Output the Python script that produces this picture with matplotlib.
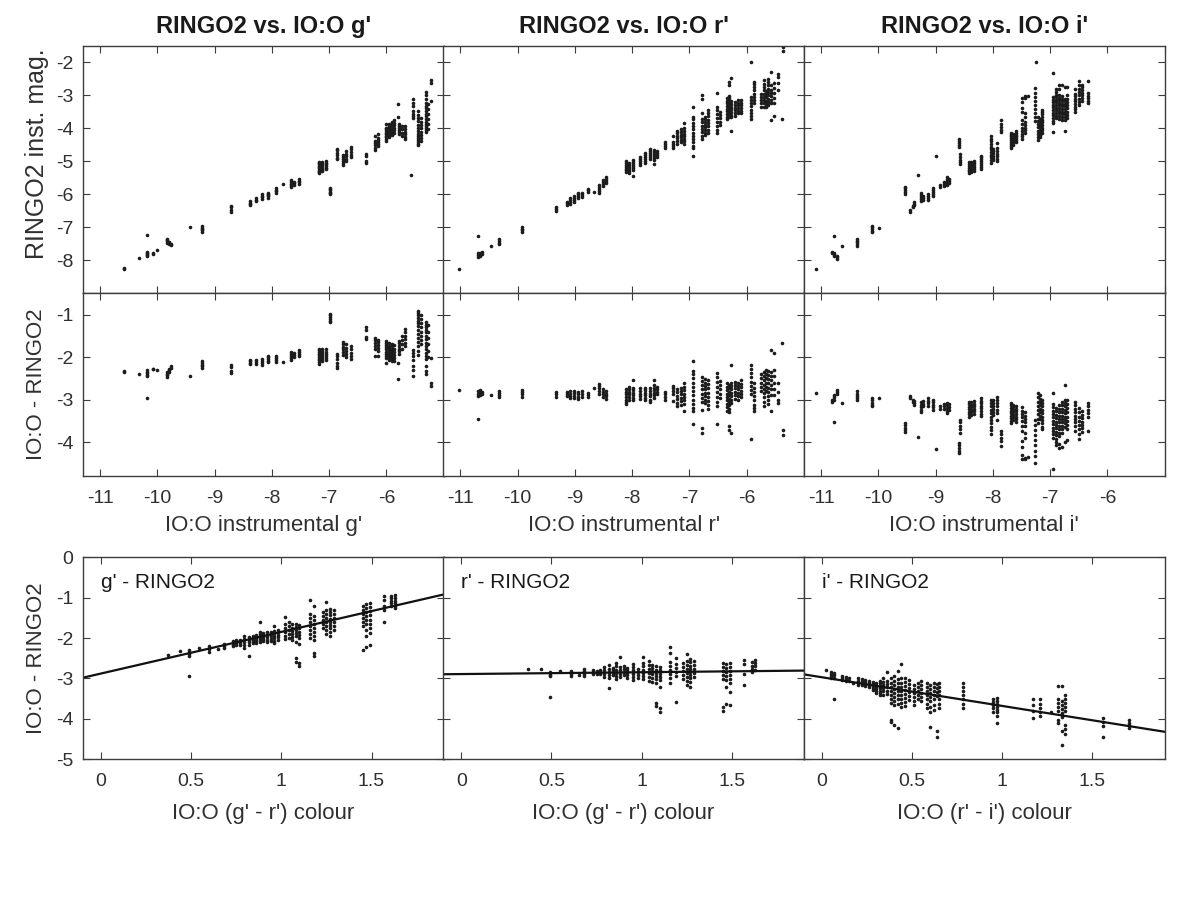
import matplotlib
matplotlib.use('Agg')
import matplotlib.pyplot as plt
import numpy as np

plt.rcParams['font.family'] = ['Liberation Sans', 'DejaVu Sans']
plt.rcParams['axes.unicode_minus'] = False

# ---------------- data: IO:O instrumental mag (cluster x) and IO:O - RINGO2 ----------------
g_io = [-10.59, -10.33, -10.19, -10.07, -10.00, -9.83, -9.79, -9.76, -9.44, -9.23, -8.72,
        -8.38, -8.28, -8.18, -8.07, -7.93, -7.81, -7.66, -7.62, -7.52, -7.17, -7.12, -7.06,
        -6.98, -6.87, -6.76, -6.70, -6.62, -6.35, -6.20, -6.14, -6.00, -5.95, -5.90, -5.86,
        -5.80, -5.78, -5.73, -5.68, -5.57, -5.54, -5.44, -5.40, -5.30, -5.27, -5.22]
g_diff = [[-2.33, -2.36], [-2.41], [-2.31, -2.35, -2.38, -2.42, -2.45, -2.97], [-2.27, -2.28],
          [-2.30], [-2.36, -2.40, -2.43, -2.47], [-2.27, -2.31, -2.35], [-2.22, -2.25], [-2.44],
          [-2.10, -2.14, -2.18, -2.22, -2.26], [-2.19, -2.24, -2.33, -2.37],
          [-2.06, -2.10, -2.13, -2.17], [-2.07, -2.12, -2.16], [-2.05, -2.09, -2.13, -2.18],
          [-1.97, -2.01, -2.05, -2.09, -2.12], [-1.98, -2.03, -2.07, -2.11], [-2.11],
          [-1.89, -1.93, -1.97, -2.03, -2.08], [-1.90, -1.95, -2.00], [-1.84, -1.88, -1.92, -1.98],
          [-1.80, -1.84, -1.88, -1.92, -1.96, -2.00, -2.04, -2.08, -2.12, -2.16],
          [-1.81, -1.86, -1.90, -1.95, -2.00, -2.05, -2.10],
          [-1.82, -1.87, -1.92, -1.97, -2.02, -2.07],
          [-0.98, -1.02, -1.06, -1.10, -1.14, -1.18],
          [-1.93, -1.98, -2.05, -2.13, -2.20, -2.25],
          [-1.64, -1.70, -1.76, -1.82, -1.88, -1.95], [-1.70, -1.78, -1.85, -1.92, -2.00],
          [-1.75, -1.82, -1.90, -1.98, -2.05], [-1.30, -1.36, -1.52, -1.58],
          [-1.55, -1.60, -1.68, -1.75, -1.82, -1.98], [-1.60, -1.65, -1.72, -1.78, -1.85, -1.98],
          [-1.62, -1.67, -1.72, -1.77, -1.82, -1.87, -1.92, -1.97, -2.02, -2.14],
          [-1.68, -1.73, -1.78, -1.83, -1.88, -1.93, -1.98, -2.03, -2.08],
          [-1.70, -1.75, -1.80, -1.85, -1.90, -1.95, -2.00, -2.05, -2.10],
          [-1.72, -1.80, -1.88, -1.95, -2.02, -2.10],
          [-2.52, -2.15], [-1.62, -1.68, -1.74, -1.80, -1.86, -1.92], [-1.50, -1.60, -1.70, -1.80],
          [-1.35, -1.42, -1.50, -1.58, -1.66, -1.75], [-0.14],
          [-1.84, -1.90, -1.98, -2.06, -2.20, -2.30, -2.44],
          [-0.92, -0.97, -1.02, -1.08, -1.14, -1.20, -1.28, -1.36, -1.45, -1.55, -1.65, -1.75, -1.85, -1.95],
          [-1.00, -1.10, -1.20, -1.30, -1.40, -1.50, -1.60, -1.70],
          [-1.18, -1.24, -1.30, -1.36, -1.42, -1.50, -1.58, -1.66, -1.74, -1.82, -1.90, -1.98, -2.05, -2.20, -2.32, -2.40],
          [-1.25, -1.40, -1.55, -1.70, -1.85, -2.00], [-2.03, -2.60, -2.68]]

r_io = [-11.02, -10.70, -10.66, -10.63, -10.46, -10.32, -9.92, -9.33, -9.14, -9.08, -9.01, -8.94,
        -8.88, -8.78, -8.67, -8.58, -8.51, -8.45, -8.10, -8.05, -7.99, -7.86, -7.78, -7.68, -7.62,
        -7.57, -7.42, -7.28, -7.22, -7.15, -7.10, -6.93, -6.78, -6.73, -6.68, -6.52, -6.46, -6.35,
        -6.31, -6.27, -6.20, -6.15, -6.10, -5.92, -5.87, -5.75, -5.70, -5.66, -5.62, -5.58, -5.53,
        -5.46, -5.39, -5.36]
r_diff = [[-2.77], [-2.80, -2.86, -2.91, -3.45], [-2.78, -2.84, -2.89], [-2.82, -2.88], [-2.89],
          [-2.81, -2.85, -2.90, -2.95], [-2.78, -2.83, -2.88, -2.94], [-2.82, -2.88, -2.94],
          [-2.82, -2.87, -2.92], [-2.80, -2.86, -2.92, -2.97], [-2.79, -2.85, -2.91, -2.96],
          [-2.83, -2.88, -2.94, -2.99], [-2.81, -2.87, -2.93], [-2.84, -2.90, -2.95], [-2.73],
          [-2.63, -2.68, -2.74, -2.80, -2.86], [-2.76, -2.82, -2.88, -2.94],
          [-2.80, -2.86, -2.92, -2.98], [-2.76, -2.82, -2.88, -2.94, -3.00, -3.06, -3.10],
          [-2.70, -2.76, -2.82, -2.88, -2.94, -3.00], [-2.54, -2.72, -2.78, -2.84, -2.90, -2.96, -3.02],
          [-2.74, -2.80, -2.86, -2.92, -2.98], [-2.72, -2.78, -2.84, -2.90, -2.96, -3.02],
          [-2.74, -2.80, -2.86, -2.92, -3.00, -3.06], [-2.54, -2.66, -2.72, -2.78, -2.84, -2.90, -2.96],
          [-2.70, -2.76, -2.82, -2.88], [-2.82, -2.88, -2.94, -3.00], [-2.68, -2.74, -2.80, -2.86, -3.04],
          [-2.75, -2.83, -2.91, -2.99, -3.07, -3.15], [-2.72, -2.80, -2.88, -2.96, -3.04, -3.12],
          [-2.62, -2.70, -2.78, -2.86, -2.94, -3.02, -3.10, -3.26],
          [-2.09, -2.32, -2.40, -2.50, -2.60, -2.70, -2.80, -2.90, -3.00, -3.10, -3.20, -3.28, -3.58],
          [-2.46, -2.56, -2.66, -2.76, -2.86, -2.96, -3.06, -3.24, -3.67, -3.79],
          [-2.52, -2.60, -2.68, -2.76, -2.84, -2.92, -3.00, -3.08],
          [-2.54, -2.64, -2.74, -2.84, -2.94, -3.04, -3.14, -3.22],
          [-2.38, -2.48, -2.58, -2.70, -2.82, -2.94, -3.06, -3.16, -3.58],
          [-2.56, -2.66, -2.76, -2.86, -2.96],
          [-2.62, -2.70, -2.78, -2.86, -2.94, -3.02, -3.10, -3.18, -3.26],
          [-2.66, -2.74, -2.82, -2.90, -2.98, -3.06, -3.14, -3.22, -3.30, -3.63, -3.72],
          [-2.19, -2.60, -2.68, -2.76, -2.84, -2.92, -3.00, -3.08, -3.79],
          [-2.58, -2.66, -2.74, -2.82, -2.90, -2.98], [-2.60, -2.68, -2.76, -2.84, -2.92, -3.00],
          [-2.55, -2.63, -2.71, -2.79, -2.87, -2.95],
          [-2.19, -2.28, -2.38, -2.48, -2.58, -2.68, -2.78, -2.88, -3.93],
          [-2.62, -2.72, -2.82, -2.92, -3.02, -3.12, -3.20, -3.28],
          [-2.40, -2.50, -2.60, -2.70, -2.80],
          [-2.35, -2.45, -2.55, -2.65, -2.75, -2.85, -2.95, -3.05, -3.15],
          [-2.30, -2.40, -2.50, -2.60, -2.70, -2.80],
          [-2.32, -2.42, -2.52, -2.62, -2.72, -2.82, -2.92, -3.02, -3.10],
          [-1.84, -2.35, -2.45, -2.55, -2.65, -2.75, -2.90, -3.28],
          [-1.90, -2.30, -2.45, -2.60, -2.75, -2.90], [-2.62, -2.82, -3.00, -3.09], [-1.68],
          [-3.71, -3.83]]

i_io = [-11.09, -10.81, -10.77, -10.73, -10.64, -10.37, -10.12, -9.99, -9.54, -9.44, -9.40, -9.37,
        -9.30, -9.26, -9.22, -9.13, -9.05, -9.00, -8.93, -8.86, -8.80, -8.77, -8.57, -8.59, -8.42,
        -8.38, -8.33, -8.21, -8.04, -7.99, -7.93, -7.86, -7.69, -7.64, -7.59, -7.50, -7.44, -7.38,
        -7.26, -7.25, -7.22, -7.18, -7.14, -6.95, -6.90, -6.85, -6.80, -6.74, -6.70, -6.57, -6.50,
        -6.44, -6.33]
i_diff = [[-2.84], [-3.02, -3.06], [-2.90, -2.95, -3.00, -3.52], [-2.77, -2.82, -2.87], [-3.07],
          [-2.81, -2.86, -2.91, -2.96, -3.00], [-2.97, -3.02, -3.07, -3.12, -3.16], [-2.97],
          [-3.55, -3.60, -3.66, -3.72, -3.77], [-2.91, -2.96], [-3.00, -3.05], [-3.04, -3.09, -3.13],
          [-3.87], [-3.06, -3.12, -3.18, -3.24, -3.30], [-3.04, -3.10, -3.16],
          [-2.97, -3.03, -3.09, -3.15], [-3.00, -3.06, -3.12, -3.18, -3.24], [-4.16],
          [-3.16, -3.22], [-3.10, -3.16, -3.22], [-3.08, -3.14, -3.20, -3.26, -3.32],
          [-3.10, -3.17, -3.24], [-3.48, -3.54, -3.62, -3.70, -3.78],
          [-4.02, -4.08, -4.14, -4.20, -4.26], [-3.05, -3.11, -3.17, -3.23, -3.29, -3.35, -3.40],
          [-3.06, -3.12, -3.18, -3.24, -3.30, -3.36], [-3.04, -3.10, -3.16, -3.22, -3.28, -3.34],
          [-2.97, -3.03, -3.09, -3.15, -3.21, -3.27, -3.33, -3.38],
          [-3.00, -3.08, -3.16, -3.24, -3.32, -3.40, -3.48, -3.56, -3.64, -3.72, -3.80],
          [-3.02, -3.09, -3.16, -3.23, -3.30, -3.37], [-2.93, -3.00, -3.08, -3.16, -3.24, -3.32, -3.48],
          [-3.75, -3.82, -3.90, -3.98, -4.10],
          [-3.08, -3.14, -3.20, -3.26, -3.32, -3.38, -3.44, -3.50, -3.56],
          [-3.12, -3.18, -3.24, -3.30, -3.36, -3.42, -3.48],
          [-3.16, -3.22, -3.28, -3.34, -3.40, -3.46, -3.52],
          [-3.18, -3.26, -3.34, -3.42, -3.50, -3.62, -3.74, -3.98, -4.12, -4.30, -4.41],
          [-3.30, -3.38, -3.46, -3.54, -3.62, -3.78, -3.90, -4.37, -4.41], [-4.35],
          [-3.48, -3.60, -3.72, -3.84, -3.96, -4.08, -4.20, -4.32, -4.49], [-5.27],
          [-2.85, -2.95, -3.05, -3.15, -3.25, -3.35, -3.45, -3.55],
          [-2.90, -2.98, -3.06, -3.14, -3.22, -3.30, -3.38, -3.46],
          [-3.00, -3.08, -3.16, -3.24, -3.32, -3.40, -3.48, -3.56, -3.64, -3.70],
          [-2.84, -3.10, -3.18, -3.26, -3.34, -3.42, -3.50, -3.58, -3.66, -3.74, -3.82, -3.90, -4.63],
          [-3.20, -3.28, -3.36, -3.44, -3.52, -3.60, -3.68, -3.76, -3.84, -3.92, -4.00, -4.08],
          [-3.14, -3.22, -3.30, -3.38, -3.46, -3.54, -3.62, -3.70, -3.78, -3.86, -4.05, -4.15],
          [-3.06, -3.14, -3.22, -3.30, -3.38, -3.46, -3.54, -3.62, -3.70, -3.78, -4.12],
          [-2.66, -3.00, -3.08, -3.16, -3.24, -3.32, -3.40, -3.48, -3.56, -3.64, -4.00],
          [-3.00, -3.10, -3.20, -3.30, -3.40, -3.50, -3.60, -3.70, -3.95],
          [-3.06, -3.14, -3.22, -3.30, -3.38, -3.46, -3.54, -3.62, -3.75],
          [-3.20, -3.30, -3.40, -3.50, -3.60, -3.70, -3.80, -3.92],
          [-3.28, -3.36, -3.44, -3.52, -3.60, -3.68, -3.76],
          [-3.09, -3.16, -3.24, -3.32, -3.40, -3.75]]

# ---------------- data: colour vs IO:O - RINGO2 ----------------
gc_col = [0.37, 0.44, 0.49, 0.545, 0.60, 0.65, 0.68, 0.73, 0.75, 0.77, 0.79, 0.82, 0.84, 0.86, 0.88,
          0.90, 0.92, 0.94, 0.96, 0.98, 1.02, 1.04, 1.06, 1.08, 1.10, 1.16, 1.18, 1.23, 1.25, 1.27,
          1.29, 1.45, 1.47, 1.49, 1.57, 1.61, 1.63]
gc_diff = [[-2.42], [-2.33], [-2.30, -2.35, -2.40, -2.45, -2.95], [-2.25], [-2.20, -2.27, -2.34],
           [-2.26], [-2.14, -2.19, -2.24], [-2.08, -2.12, -2.16, -2.20], [-2.05, -2.09, -2.13, -2.17],
           [-2.04, -2.08, -2.12, -2.16], [-1.95, -2.02, -2.10, -2.18, -2.24],
           [-1.98, -2.04, -2.10, -2.16, -2.44], [-1.96, -2.00, -2.04, -2.08, -2.12],
           [-1.92, -1.97, -2.02, -2.07, -2.12], [-1.59, -1.85, -1.90, -1.95, -2.00, -2.05, -2.10],
           [-1.88, -1.93, -1.98, -2.03, -2.08], [-1.86, -1.92, -1.98, -2.04, -2.10],
           [-1.84, -1.90, -1.96, -2.02, -2.08], [-1.70, -1.82, -1.88, -1.94, -2.00, -2.06, -2.12],
           [-1.80, -1.86, -1.92, -1.98, -2.04], [-1.47, -1.65, -1.75, -1.85, -1.95, -2.02],
           [-1.60, -1.70, -1.80, -1.90, -2.00], [-1.66, -1.74, -1.82, -1.90, -1.98, -2.05],
           [-1.65, -1.72, -1.80, -1.88, -1.96, -2.10, -2.50, -2.58],
           [-1.68, -1.76, -1.84, -1.92, -2.00, -2.15, -2.62, -2.70],
           [-1.06, -1.40, -1.50, -1.60, -1.70, -1.80, -1.90, -2.00],
           [-1.20, -1.45, -1.55, -1.65, -1.75, -1.85, -1.95, -2.05, -2.38, -2.44],
           [-1.35, -1.45, -1.55, -1.65, -1.75], [-1.10, -1.30, -1.40, -1.50, -1.60, -1.70, -1.80, -1.90],
           [-1.28, -1.36, -1.44, -1.52, -1.60, -1.68, -1.76, -1.84, -1.96],
           [-1.30, -1.40, -1.50, -1.60, -1.70, -1.80], [-1.20, -1.30, -1.40, -1.50, -1.60, -1.70, -2.30],
           [-1.15, -1.25, -1.35, -1.45, -1.55, -1.65, -1.80, -1.95, -2.22],
           [-1.14, -1.24, -1.34, -1.44, -1.54, -1.64, -1.76, -1.88, -2.17],
           [-0.97, -1.05, -1.20, -1.30, -1.59], [-0.96, -1.02, -1.08, -1.14, -1.20],
           [-0.93, -1.00, -1.07, -1.14, -1.21, -1.26]]

rc_col = [0.37, 0.44, 0.49, 0.55, 0.61, 0.65, 0.68, 0.73, 0.75, 0.77, 0.79, 0.82, 0.84, 0.86, 0.88,
          0.90, 0.92, 0.95, 0.98, 1.01, 1.04, 1.06, 1.08, 1.10, 1.16, 1.19, 1.23, 1.25, 1.27, 1.29,
          1.45, 1.47, 1.49, 1.57, 1.61, 1.63]
rc_diff = [[-2.76], [-2.77], [-2.83, -2.87, -2.91, -2.95, -3.45], [-2.81], [-2.81, -2.88, -2.95],
           [-2.91], [-2.77, -2.82, -2.88, -2.94], [-2.80, -2.84, -2.88], [-2.82, -2.86, -2.90],
           [-2.79, -2.84, -2.89], [-2.72, -2.80, -2.88, -2.96], [-2.67, -2.76, -2.84, -2.92, -3.00, -3.24],
           [-2.74, -2.80, -2.86, -2.92], [-2.62, -2.70, -2.78, -2.86, -2.94, -3.02],
           [-2.46, -2.72, -2.80, -2.88, -2.96], [-2.68, -2.76, -2.84, -2.92],
           [-2.74, -2.80, -2.86, -2.92, -2.98], [-2.64, -2.72, -2.80, -2.88, -2.96, -3.04],
           [-2.76, -2.84, -2.92, -3.00], [-2.46, -2.62, -2.70, -2.78, -2.86, -2.94, -3.02],
           [-2.56, -2.66, -2.76, -2.86, -2.96, -3.06], [-2.66, -2.74, -2.82, -2.90, -2.98, -3.08],
           [-2.70, -2.78, -2.86, -2.94, -3.02, -3.12, -3.60, -3.68],
           [-2.72, -2.80, -2.88, -2.96, -3.04, -3.20, -3.72, -3.82],
           [-2.21, -2.37, -2.60, -2.70, -2.80, -2.90, -3.00, -3.10],
           [-2.50, -2.64, -2.74, -2.84, -2.94, -3.59], [-2.62, -2.72, -2.82, -2.92, -3.02],
           [-2.40, -2.56, -2.66, -2.76, -2.86, -2.96, -3.06, -3.16],
           [-2.52, -2.60, -2.68, -2.76, -2.84, -2.92, -3.00, -3.08, -3.20],
           [-2.56, -2.66, -2.76, -2.86, -2.96], [-2.62, -2.72, -2.82, -2.92, -3.02, -3.70, -3.80],
           [-2.64, -2.74, -2.84, -2.94, -3.04, -3.20, -3.64],
           [-2.62, -2.72, -2.82, -2.92, -3.02, -3.12, -3.33, -3.66],
           [-2.54, -2.64, -2.90, -3.16], [-2.60, -2.68, -2.76, -2.83], [-2.54, -2.62, -2.70, -2.78]]

ic_col = [0.02, 0.05, 0.065, 0.11, 0.135, 0.15, 0.17, 0.20, 0.22, 0.24, 0.26, 0.28, 0.30, 0.32, 0.34,
          0.36, 0.38, 0.40, 0.42, 0.44, 0.46, 0.48, 0.51, 0.53, 0.55, 0.58, 0.60, 0.62, 0.64, 0.65,
          0.78, 0.95, 0.97, 1.17, 1.21, 1.27, 1.31, 1.33, 1.35, 1.56, 1.70]
ic_diff = [[-2.79], [-2.84, -2.89, -2.94, -2.99], [-2.86, -2.92, -2.98, -3.51], [-2.94, -2.99, -3.04],
           [-2.96, -3.01, -3.06], [-3.00, -3.05], [-3.10], [-3.00, -3.05, -3.10, -3.15],
           [-3.02, -3.07, -3.12, -3.17], [-3.04, -3.09, -3.14, -3.19], [-3.06, -3.11, -3.16, -3.20],
           [-3.08, -3.13, -3.18, -3.23, -3.28], [-3.10, -3.15, -3.20, -3.25, -3.30, -3.35],
           [-3.05, -3.12, -3.18, -3.24, -3.30, -3.36, -3.41], [-3.00, -3.08, -3.16, -3.24, -3.32, -3.40],
           [-2.85, -3.06, -3.14, -3.22, -3.30, -3.38],
           [-3.00, -3.10, -3.20, -3.30, -3.40, -3.50, -3.60, -4.03, -4.08],
           [-2.95, -3.05, -3.15, -3.25, -3.35, -3.45, -3.55, -3.65, -4.15],
           [-2.82, -3.02, -3.12, -3.22, -3.32, -3.42, -3.52, -3.62, -4.23],
           [-2.65, -3.00, -3.10, -3.20, -3.30, -3.40, -3.50, -3.60, -3.70],
           [-2.98, -3.08, -3.18, -3.28, -3.38, -3.48, -3.58, -3.68],
           [-3.04, -3.14, -3.24, -3.34, -3.44, -3.54], [-3.15, -3.25, -3.35, -3.45, -3.55, -3.65],
           [-3.10, -3.20, -3.30, -3.40, -3.50], [-3.05, -3.15, -3.25, -3.35, -3.45, -3.55],
           [-3.12, -3.22, -3.32, -3.42, -3.52, -3.62, -3.72],
           [-3.15, -3.25, -3.35, -3.45, -3.55, -3.70, -3.82, -4.19],
           [-3.10, -3.20, -3.30, -3.40, -3.50, -3.65, -3.78], [-3.14, -3.24, -3.34, -3.44, -4.29, -4.44],
           [-3.12, -3.22, -3.32, -3.42, -3.52, -3.62, -3.72],
           [-3.12, -3.22, -3.32, -3.42, -3.52, -3.62, -3.74], [-3.50, -3.58, -3.66, -3.74, -3.82],
           [-3.49, -3.56, -3.63, -3.70, -3.77, -3.84, -3.94, -4.09], [-3.51, -3.65, -3.80, -3.99],
           [-3.52, -3.62, -3.72, -3.82, -3.92], [-3.84],
           [-3.18, -3.50, -3.60, -3.70, -3.80, -4.02, -4.10],
           [-3.18, -3.55, -3.65, -3.75, -3.85, -3.95, -4.30, -4.65],
           [-3.40, -3.50, -3.60, -3.70, -3.80, -4.15, -4.25, -4.38], [-3.99, -4.08, -4.18, -4.44],
           [-4.03, -4.09, -4.15, -4.23]]

# linear colour-term fits (intercept, slope)
fit_intercept = [-2.877, -2.8905, -2.97]
fit_slope = [1.03, 0.045, -0.71]

titles = ["RINGO2 vs. IO:O g'", "RINGO2 vs. IO:O r'", "RINGO2 vs. IO:O i'"]
mid_xlabels = ["IO:O instrumental g'", "IO:O instrumental r'", "IO:O instrumental i'"]
bot_xlabels = ["IO:O (g' - r') colour", "IO:O (g' - r') colour", "IO:O (r' - i') colour"]
bot_texts = ["g' - RINGO2", "r' - RINGO2", "i' - RINGO2"]


def expand(xs, yss):
    x = np.concatenate([[a] * len(b) for a, b in zip(xs, yss)])
    y = np.concatenate([np.asarray(b, float) for b in yss])
    return x, y


fig = plt.figure(figsize=(12, 9.16), dpi=100)

col_left = [0.0692, 0.3694, 0.6700]
col_w = 0.3005
rows = {'top': (0.6798, 0.2703), 'mid': (0.4803, 0.1995), 'bot': (0.1711, 0.2205)}

EDGE = '#3d3d3d'
TXT = '#303030'
DOT = '#1c1c1c'
MS = 2.6


def style(ax, left_labels):
    for s in ax.spines.values():
        s.set_color(EDGE)
        s.set_linewidth(1.0)
    ax.tick_params(direction='in', top=True, right=True, length=5, width=0.8,
                   color=EDGE, labelsize=14, labelcolor=TXT)
    ax.tick_params(axis='x', pad=10)
    ax.tick_params(axis='y', pad=7)
    if not left_labels:
        ax.tick_params(labelleft=False)


def ylab(ax, text, ypos, size=16):
    ax.set_ylabel(text, fontsize=size, color=TXT)
    ax.yaxis.label.set_va('center')
    ax.yaxis.set_label_coords(-0.128, ypos)


sets = [(g_io, g_diff), (r_io, r_diff), (i_io, i_diff)]
csets = [(gc_col, gc_diff), (rc_col, rc_diff), (ic_col, ic_diff)]

for k in range(3):
    io, diff = expand(*sets[k])
    ringo = io - diff

    # top: RINGO2 instrumental magnitude
    b, h = rows['top']
    ax = fig.add_axes([col_left[k], b, col_w, h])
    ax.plot(io, ringo, 'o', ms=MS, mew=0, color=DOT)
    ax.set_xlim(-11.3, -5)
    ax.set_ylim(-9, -1.5)
    ax.set_xticks(np.arange(-11, -4, 1))
    ax.set_yticks(np.arange(-8, -1, 1))
    style(ax, k == 0)
    ax.tick_params(labelbottom=False)
    ax.set_title(titles[k], fontsize=17, fontweight='bold', color='#1a1a1a', pad=9)
    if k == 0:
        ylab(ax, 'RINGO2 inst. mag.', 0.565, size=18)

    # middle: IO:O - RINGO2 vs IO:O mag
    b, h = rows['mid']
    ax = fig.add_axes([col_left[k], b, col_w, h])
    ax.plot(io, diff, 'o', ms=MS, mew=0, color=DOT)
    ax.set_xlim(-11.3, -5)
    ax.set_ylim(-4.8, -0.5)
    ax.set_xticks(np.arange(-11, -5, 1))
    ax.set_yticks(np.arange(-4, 0, 1))
    style(ax, k == 0)
    ax.set_xlabel(mid_xlabels[k], fontsize=16, color=TXT)
    ax.xaxis.set_label_coords(0.5, -0.27)
    ax.xaxis.label.set_va('center')
    if k == 0:
        ylab(ax, 'IO:O - RINGO2', 0.5)

    # bottom: colour term
    cx, cy = expand(*csets[k])
    b, h = rows['bot']
    ax = fig.add_axes([col_left[k], b, col_w, h])
    ax.plot(cx, cy, 'o', ms=MS, mew=0, color=DOT)
    ax.axline((0, fit_intercept[k]), slope=fit_slope[k], color='#111111', lw=1.6)
    ax.set_xlim(-0.1, 1.9)
    ax.set_ylim(-5, 0)
    ax.set_xticks([0, 0.5, 1, 1.5])
    ax.set_xticklabels(['0', '0.5', '1', '1.5'])
    ax.set_yticks(np.arange(-5, 1, 1))
    style(ax, k == 0)
    ax.set_xlabel(bot_xlabels[k], fontsize=16, color=TXT)
    ax.xaxis.set_label_coords(0.5, -0.27)
    ax.xaxis.label.set_va('center')
    ax.text(0.05, 0.873, bot_texts[k], transform=ax.transAxes, fontsize=15,
            color='#1a1a1a', va='center', ha='left')
    if k == 0:
        ylab(ax, 'IO:O - RINGO2', 0.5)

fig.savefig('out.png', dpi=100, facecolor='white')
